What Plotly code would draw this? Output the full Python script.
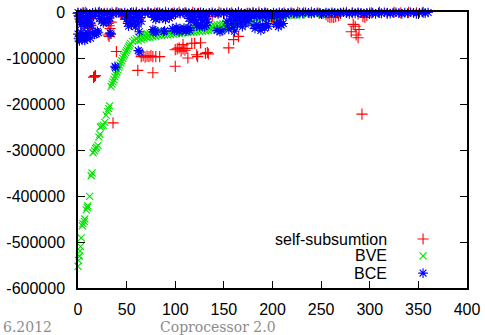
import plotly.graph_objects as go

# ---------------- data ----------------
x_ticks = [0, 50, 100, 150, 200, 250, 300, 350, 400]
x_tick_labels = ["0", "50", "100", "150", "200", "250", "300", "350", "400"]
y_ticks = [0, -100000, -200000, -300000, -400000, -500000, -600000]
y_tick_labels = ["0", "-100000", "-200000", "-300000", "-400000", "-500000", "-600000"]

series_names = ["self-subsumtion", "BVE", "BCE"]

# self-subsumtion: points close to zero
ss_top_x = [0, 1, 2, 3, 4, 5, 8, 11, 12, 13,
            14, 15, 18, 22, 26, 27, 30, 31, 32, 33,
            34, 35, 40, 44, 48, 49, 55, 60, 66, 72,
            79, 82, 90, 97, 104, 110, 118, 124, 130, 134,
            138, 145, 150, 158, 165, 172, 176, 180, 186, 193,
            200, 202, 204, 206, 208, 212, 220, 226, 232, 240,
            248, 255, 257, 259, 261, 263, 265, 268, 270, 276,
            282, 288, 293, 295, 297, 302, 310, 318, 325, 332,
            340, 348, 355]
ss_top_y = [-3000, -8000, -15000, -22000, -27000, -2000, -1000, -33000, -36000, -26000,
            -14000, -4000, -2000, -1000, -6000, -3000, -18000, -25000, -30000, -36000,
            -22000, -2000, -1000, -4000, -10000, -16000, -2000, -1000, -3000, -1000,
            -2000, -2000, -1000, -3000, -1000, -2000, -1000, -3000, -9000, -10000,
            -9000, -1000, -4000, -2000, -1000, -5000, -3000, -2000, -1000, -3000,
            -10000, -17000, -24000, -20000, -14000, -2000, -3000, -1000, -2000, -1000,
            -3000, -6000, -10000, -12000, -11000, -12000, -10000, -8000, -3000, -1000,
            -2000, -4000, -10000, -12000, -8000, -2000, -1000, -3000, -1000, -2000,
            -1000, -2000, -1000]
# self-subsumtion: scattered lower points
ss_out_x = [16, 17, 18, 36, 39.5, 32, 33, 31, 61.5, 65,
            67, 69, 71, 73, 75, 77, 80, 84, 77, 100,
            100, 102, 104, 106, 108, 110, 112, 108, 113, 117,
            120, 126, 122, 123, 131, 133, 134, 155, 160, 165,
            201, 281, 283, 285, 286, 288, 289, 292]
ss_out_y = [-142000, -140000, -138000, -241000, -86000, -53000, -47000, -50000, -127000, -97000,
            -95000, -98000, -96000, -97000, -95000, -97000, -97000, -97000, -132000, -118000,
            -82000, -80000, -78000, -85000, -80000, -83000, -79000, -71000, -100000, -68000,
            -68000, -67000, -93000, -97000, -90000, -88000, -91000, -78000, -60000, -53000,
            -21000, -43000, -27000, -31000, -50000, -56000, -38000, -222000]

# BVE: steep rising part
bve_rise_x = [0, 0.5, 1.5, 2, 2.6, 3.3, 4.5, 5, 6.5, 7,
              8.5, 9.5, 10, 12, 13.5, 14.5, 15.5, 17, 18, 19,
              20.5, 21.5, 22.5, 23, 24.5, 26, 27.5, 29, 30.5, 31.5,
              32.5, 34, 35, 36, 37, 38, 39, 40, 41, 42,
              43, 44, 45, 46, 47, 48, 49, 50, 51, 52,
              53, 54, 56, 58, 60]
bve_rise_y = [-553000, -540000, -531000, -520000, -510000, -491000, -465000, -460000, -455000, -450000,
              -430000, -425000, -421000, -401000, -356000, -350000, -306000, -302000, -297000, -294000,
              -290000, -272000, -266000, -250000, -248000, -246000, -240000, -224000, -216000, -210000,
              -204000, -162000, -157000, -152000, -147000, -141000, -136000, -131000, -126000, -121000,
              -116000, -111000, -106000, -101000, -96000, -92000, -88000, -84000, -80000, -76000,
              -72000, -68000, -64000, -61000, -58000]
# BVE: flat band (upper and lower edge)
bve_band_x = [62, 65, 68, 71, 74, 77, 80, 83, 86, 89,
              92, 95, 98, 101, 104, 107, 110, 113, 116, 119,
              122, 125, 128, 131, 134, 137, 140, 143, 146, 149,
              152, 155, 158, 161, 164, 167, 170, 175, 180, 185,
              190, 195, 200, 205, 210, 215, 220, 225, 230, 235,
              240, 245, 250, 255, 260, 265, 270]
bve_band_upper = [-54000, -51000, -49000, -47000, -46000, -45000, -44000, -43000, -42000, -41500,
                  -41000, -40000, -39500, -39000, -38000, -37500, -37000, -36000, -35500, -35000,
                  -34000, -33500, -33000, -32000, -31000, -30000, -29000, -28000, -27000, -26000,
                  -25000, -24000, -22500, -21000, -19500, -18000, -16500, -14500, -12500, -11000,
                  -9500, -8000, -7000, -6000, -5000, -4500, -4000, -3500, -3000, -2500,
                  -2000, -2000, -1500, -1500, -1000, -1000, -500]
bve_band_lower = [-63000, -60000, -58000, -56000, -55000, -54000, -53000, -51500, -51000, -50000,
                  -49500, -49000, -48000, -47500, -47000, -46000, -45500, -45000, -44000, -43500,
                  -43000, -42000, -41500, -41000, -40000, -39000, -38000, -37000, -36000, -35000,
                  -34000, -32500, -31000, -29500, -28000, -26500, -25000, -22500, -20000, -18000,
                  -16000, -14000, -12500, -11000, -9500, -8500, -7500, -6500, -6000, -5000,
                  -4500, -4000, -3500, -3000, -2500, -2000, -1500]

# BCE: dense band close to zero
bce_top_x = [0, 3, 6, 9, 12, 15, 18, 21, 24, 27,
             30, 33, 36, 39, 42, 45, 48, 51, 54, 57,
             60, 63, 66, 69, 72, 75, 78, 81, 84, 87,
             90, 93, 96, 99, 102, 105, 108, 111, 114, 117,
             120, 123, 126, 129, 132, 135, 138, 141, 144, 147,
             150, 153, 156, 159, 162, 165, 168, 171, 174, 177,
             180, 183, 186, 189, 192, 195, 198, 201, 204, 207,
             210, 213, 216, 219, 222, 225, 228, 231, 234, 237,
             240, 243, 246, 249, 252, 255, 258, 261, 264, 267,
             270, 273, 276, 279, 282, 285, 288, 291, 294, 297,
             300, 303, 306, 309, 312, 315, 318, 321, 324, 327,
             330, 333, 336, 339, 342, 345, 348, 351, 354, 357,
             360]
bce_top_y = [-1000, -3000, -500, -2500, -4000, -1500, -3000, -500, -2000, -3500,
             -1000, -2500, -4000, -500, -2000, -3000, -1000, -3500, -1500, -500,
             -2500, -4000, -1000, -3000, -500, -2000, -3500, -1500, -500, -2500,
             -4000, -1000, -3000, -500, -2000, -3500, -1500, -500, -2500, -4000,
             -1000, -3000, -500, -2000, -3500, -1500, -500, -2500, -4000, -1000,
             -3000, -500, -2000, -3500, -1500, -500, -2500, -4000, -1000, -3000,
             -500, -2000, -3500, -1500, -500, -2500, -4000, -1000, -3000, -500,
             -2000, -3500, -1500, -500, -2500, -4000, -1000, -3000, -500, -2000,
             -3500, -1500, -500, -2500, -4000, -1000, -3000, -500, -2000, -3500,
             -1500, -500, -2500, -4000, -1000, -3000, -500, -2000, -3500, -1500,
             -500, -2500, -4000, -1000, -3000, -500, -2000, -3500, -1500, -500,
             -2500, -4000, -1000, -3000, -500, -2000, -3500, -1500, -500, -2500,
             -1000]
# BCE: clusters below the band
bce_cl_x = [0, 0.5, 1.5, 2, 3, 4, 5, 6, 7, 8, 9, 10, 11, 13, 15, 17, 18, 19, 20, 21,
            1, 2, 3, 5, 6, 7, 8, 9, 10, 11, 12, 13, 14, 16,
            22, 24, 25, 26, 27, 29, 30, 31, 33,
            33, 34, 38, 38.5,
            48, 50, 51, 52, 53, 54, 55, 57, 58, 59, 60, 61, 62, 64, 65,
            63, 62, 63.5,
            77, 78, 79, 80, 88, 89,
            76, 78, 80, 82, 84, 86, 88, 90, 92, 94, 96, 98,
            97, 99, 101, 102, 104, 105, 107, 109, 111, 112, 114, 115,
            112, 114, 116, 118, 120, 122, 124, 126, 128, 130, 132, 133,
            122, 125, 127, 130, 132,
            143, 146, 148,
            153, 154, 155, 157, 158, 160, 161, 162, 164, 166, 167, 169, 171, 172, 174, 175, 176,
            180, 182, 184, 186, 188, 190, 192, 194, 196,
            204, 206, 207, 209, 211,
            160, 163, 166, 169, 172, 175, 178, 181, 184, 187, 190, 193, 196, 199, 202, 205, 208, 211, 214]
bce_cl_y = [-48000, -58000, -63000, -52000, -44000, -60000, -55000, -47000, -62000, -53000,
            -58000, -45000, -50000, -57000, -46000, -49000, -44000, -47000, -42000, -45000,
            -10000, -20000, -28000, -15000, -24000, -31000, -12000, -20000, -27000, -8000, -17000, -24000, -30000, -10000,
            -14000, -20000, -13000, -24000, -17000, -22000, -15000, -20000, -13000,
            -45000, -48000, -118000, -121000,
            -8000, -15000, -25000, -31000, -10000, -20000, -28000, -14000, -22000, -32000, -6000, -17000, -26000, -12000, -20000,
            -43000, -84000, -87000,
            -38000, -43000, -40000, -44000, -43000, -41000,
            -5000, -12000, -16000, -8000, -14000, -4000, -11000, -16000, -6000, -13000, -9000, -4000,
            -36000, -41000, -33000, -38000, -43000, -36000, -40000, -35000, -42000, -38000, -34000, -40000,
            -6000, -14000, -20000, -9000, -16000, -23000, -5000, -12000, -19000, -8000, -15000, -22000,
            -30000, -33000, -28000, -32000, -29000,
            -40000, -43000, -41000,
            -20000, -30000, -38000, -15000, -25000, -34000, -42000, -18000, -28000, -12000, -22000, -32000, -16000, -26000, -10000, -20000, -14000,
            -30000, -36000, -27000, -33000, -40000, -29000, -35000, -25000, -31000,
            -27000, -32000, -22000, -28000, -25000,
            -8000, -10000, -7000, -11000, -9000, -12000, -8000, -10000, -7000, -11000, -9000, -12000, -8000, -10000, -7000, -9000, -6000, -8000, -6000]

# ---------------- styling ----------------
RED = "#ff0000"
GREEN = "#00e400"
BLUE = "#0000ff"
FONT = "Liberation Sans"
colors = [RED, GREEN, BLUE]
symbols = ["cross-thin-open", "x-thin-open", "asterisk-open"]
sizes = [8, 7, 8]

series = [
    (ss_top_x + ss_out_x, ss_top_y + ss_out_y),
    (bve_rise_x + bve_band_x + bve_band_x, bve_rise_y + bve_band_upper + bve_band_lower),
    (bce_top_x + bce_cl_x, bce_top_y + bce_cl_y),
]

fig = go.Figure()
for (xs, ys), name, c, s, sz in zip(series, series_names, colors, symbols, sizes):
    fig.add_trace(go.Scatter(
        x=xs, y=ys, mode="markers", name=name, showlegend=False, cliponaxis=False,
        marker=dict(symbol=s, size=sz, color=c, line=dict(color=c, width=1.1)),
        xaxis="x", yaxis="y"))

# manual legend (text left, symbol right, as in gnuplot)
leg_rows = [0.1775, 0.116, 0.054]
for name, c, s, sz, ry in zip(series_names, colors, symbols, sizes, leg_rows):
    fig.add_trace(go.Scatter(
        x=[0.887], y=[ry], mode="markers", showlegend=False, cliponaxis=False,
        marker=dict(symbol=s, size=sz, color=c, line=dict(color=c, width=1.1)),
        xaxis="x2", yaxis="y2", hoverinfo="skip"))
    fig.add_annotation(xref="paper", yref="paper", x=0.7995, y=ry, text=name,
                       showarrow=False, xanchor="right", yanchor="middle",
                       font=dict(family=FONT, size=16, color="black"))

# footer texts of the slide
fig.add_annotation(xref="paper", yref="paper", x=-0.198, y=-0.14, text="6.2012",
                   showarrow=False, xanchor="left", yanchor="middle",
                   font=dict(family="DejaVu Serif", size=14, color="#8c8c8c"))
fig.add_annotation(xref="paper", yref="paper", x=0.206, y=-0.14, text="Coprocessor 2.0",
                   showarrow=False, xanchor="left", yanchor="middle",
                   font=dict(family="DejaVu Serif", size=14, color="#8c8c8c"))

axis_common = dict(showgrid=False, zeroline=False, showline=True, mirror="ticks",
                   linecolor="black", linewidth=1.5, ticks="inside", ticklen=7,
                   tickwidth=1.2, tickcolor="black", automargin=False,
                   tickfont=dict(family=FONT, size=16, color="black"))

fig.update_layout(
    width=485, height=335,
    margin=dict(l=78, r=18, t=12, b=47, autoexpand=False),
    paper_bgcolor="white", plot_bgcolor="white",
    showlegend=False,
    xaxis=dict(range=[0, 400], tickvals=x_ticks, ticktext=x_tick_labels,
               ticklabelstandoff=6, **axis_common),
    yaxis=dict(range=[-600000, 0], tickvals=y_ticks, ticktext=y_tick_labels,
               ticklabelstandoff=8, **axis_common),
    xaxis2=dict(range=[0, 1], overlaying="x", anchor="y2", visible=False, fixedrange=True),
    yaxis2=dict(range=[0, 1], overlaying="y", anchor="x2", visible=False, fixedrange=True),
)

fig.write_html("out.html", config={"displayModeBar": False},
               post_script="document.body.style.margin='0';document.body.style.overflow='hidden';")
